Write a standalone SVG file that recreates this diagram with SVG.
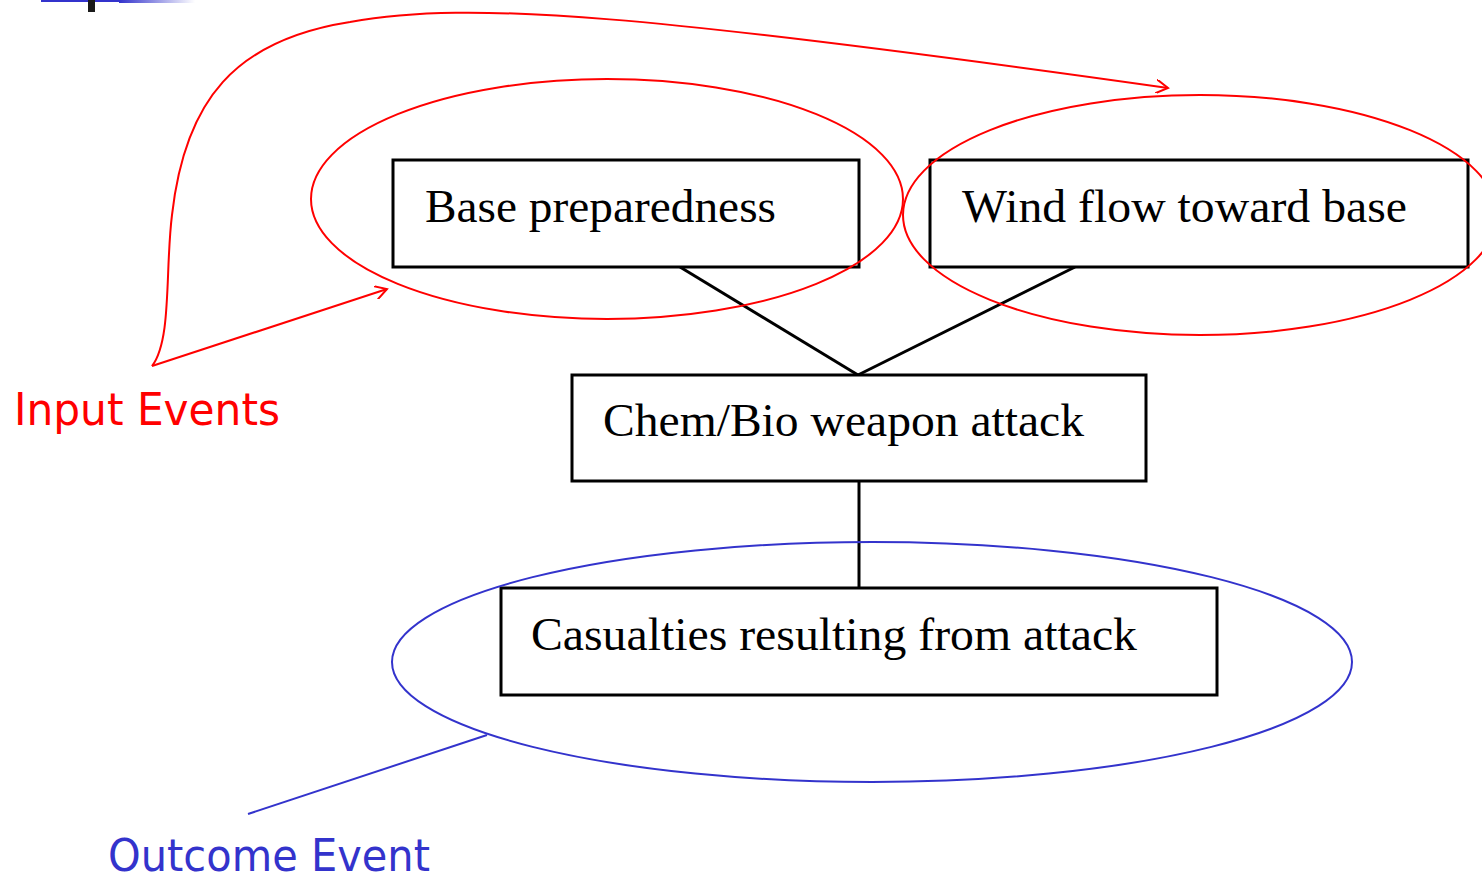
<svg xmlns="http://www.w3.org/2000/svg" width="1482" height="876" viewBox="0 0 1482 876">
<style>
.box{fill:#fff;stroke:#000;stroke-width:3}
.t{font-family:"Liberation Serif","Times New Roman",serif;font-size:47px;fill:#000}
.red{fill:none;stroke:#ff0000;stroke-width:2}
.blue{fill:none;stroke:#3333cc;stroke-width:2}
.lbl{font-family:"DejaVu Sans",Verdana,sans-serif;font-size:44px}
.conn{stroke:#000;stroke-width:3;fill:none}
</style>
<defs>
<linearGradient id="g" x1="0" x2="1" y1="0" y2="0">
<stop offset="0" stop-color="#3333cc"/>
<stop offset="1" stop-color="#3333cc" stop-opacity="0"/>
</linearGradient>
<marker id="ar" markerWidth="14" markerHeight="14" refX="12" refY="7" orient="auto" markerUnits="userSpaceOnUse">
<path d="M0,0 L12,7 L0,14" fill="none" stroke="#ff0000" stroke-width="2"/>
</marker>
</defs>
<rect width="1482" height="876" fill="#fff"/>
<g id="header">
<rect x="41" y="0" width="78" height="2" fill="#3333cc"/>
<rect x="119" y="0" width="76" height="3" fill="url(#g)"/>
<rect x="88" y="0" width="7" height="12" fill="#1a1a1a"/>
</g>
<g id="connectors">
<line class="conn" x1="680" y1="267" x2="858" y2="375"/>
<line class="conn" x1="1075" y1="267" x2="858" y2="375"/>
<line class="conn" x1="859" y1="481" x2="859" y2="588"/>
</g>
<g id="n1"><rect class="box" x="393" y="160" width="466" height="107"/><text class="t" x="425" y="222" textLength="351" lengthAdjust="spacingAndGlyphs">Base preparedness</text></g>
<g id="n2"><rect class="box" x="930" y="160" width="538" height="107"/><text class="t" x="962" y="222" textLength="445" lengthAdjust="spacingAndGlyphs">Wind flow toward base</text></g>
<g id="n3"><rect class="box" x="572" y="375" width="574" height="106"/><text class="t" x="603" y="436" textLength="481" lengthAdjust="spacingAndGlyphs">Chem/Bio weapon attack</text></g>
<g id="n4"><rect class="box" x="501" y="588" width="716" height="107"/><text class="t" x="531" y="650" textLength="606" lengthAdjust="spacingAndGlyphs">Casualties resulting from attack</text></g>
<g id="annotations">
<ellipse class="red" cx="607" cy="199" rx="296" ry="120"/>
<ellipse class="red" cx="1200" cy="215" rx="297" ry="120"/>
<ellipse class="blue" cx="872" cy="662" rx="480" ry="120"/>
<path class="red" d="M152,366 C172,340 165,270 172,215 C185,100 235,40 350,22 C470,0 650,15 1168,88" marker-end="url(#ar)"/>
<line class="red" x1="152" y1="366" x2="387" y2="289" marker-end="url(#ar)"/>
<line class="blue" x1="248" y1="814" x2="487" y2="735"/>
<text class="lbl" x="14" y="425" fill="#ff0000" textLength="266" lengthAdjust="spacingAndGlyphs">Input Events</text>
<text class="lbl" x="108" y="871" fill="#3333cc" textLength="322" lengthAdjust="spacingAndGlyphs">Outcome Event</text>
</g>
</svg>
